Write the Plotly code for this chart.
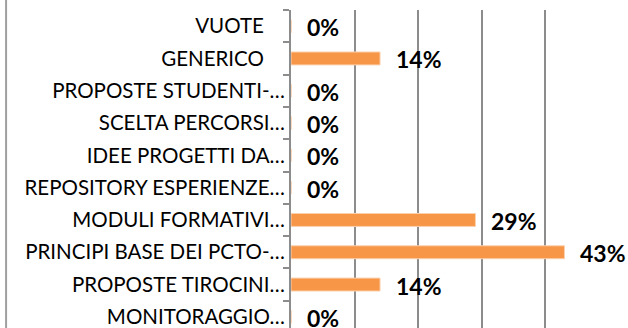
import plotly.graph_objects as go

# Categories listed bottom-to-top (Plotly draws the first category at the bottom)
categories = [
    "MONITORAGGIO…",
    "PROPOSTE TIROCINI…",
    "PRINCIPI BASE DEI PCTO-…",
    "MODULI FORMATIVI…",
    "REPOSITORY ESPERIENZE…",
    "IDEE PROGETTI DA…",
    "SCELTA PERCORSI…",
    "PROPOSTE STUDENTI-…",
    "GENERICO",
    "VUOTE",
]
percentages = [0, 14, 43, 29, 0, 0, 0, 0, 14, 0]
x_ticks = [0, 10, 20, 30, 40, 50]

BAR = "#F79646"
GRID = "#8C8C8C"
FONT = "Lato"

# Short labels carry a little trailing room, like the truncated ones
tick_text = [c if c.endswith("…") else c + "\u00a0\u00a0\u00a0\u00a0" for c in categories]

fig = go.Figure(
    go.Bar(
        x=percentages,
        y=categories,
        orientation="h",
        marker=dict(color=BAR, line=dict(color="#FBD0AE", width=1)),
        width=0.4,
        hoverinfo="skip",
    )
)

for cat, val in zip(categories, percentages):
    fig.add_annotation(
        x=val, y=cat, xref="x", yref="y",
        text=f"<b>{val}%</b>",
        showarrow=False, xanchor="left", yanchor="middle",
        xshift=14, yshift=-1,
        font=dict(family=FONT, size=23, color="#000000"),
    )

# Outer frame edge on the left
fig.add_shape(
    type="line", xref="paper", yref="paper",
    x0=-0.896, x1=-0.896, y0=-0.1, y1=1.1,
    line=dict(color="#A0A0A0", width=2),
)

fig.update_layout(
    width=628, height=328,
    margin=dict(l=291, r=19, t=10, b=0),
    paper_bgcolor="white", plot_bgcolor="white",
    showlegend=False,
    bargap=0.6,
)
fig.update_xaxes(
    range=[0, 50], tickvals=x_ticks, showticklabels=False,
    showgrid=True, gridcolor=GRID, gridwidth=2,
    zeroline=False, showline=False, ticks="",
)
fig.update_yaxes(
    categoryorder="array", categoryarray=categories,
    tickvals=categories, ticktext=tick_text,
    range=[-0.345, 9.5],
    showline=True, linecolor=GRID, linewidth=2,
    ticks="outside", tickson="boundaries", ticklen=6, tickcolor=GRID, tickwidth=2,
    showgrid=False, zeroline=False,
    tickfont=dict(family=FONT, size=20.5, color="#000000"),
)

fig.write_html("out.html")
